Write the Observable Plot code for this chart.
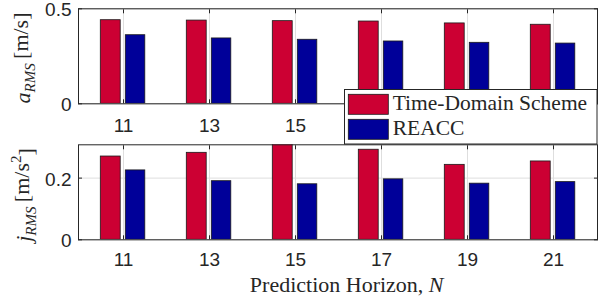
<!DOCTYPE html>
<html>
<head>
<meta charset="utf-8">
<script src="https://cdn.jsdelivr.net/npm/d3@7"></script>
<script src="https://cdn.jsdelivr.net/npm/@observablehq/plot@0.6"></script>
<style>
  body { margin: 0; background: #fff; }
  #wrap { position: relative; width: 603px; height: 299px; overflow: hidden; background: #fff; }
  #wrap > svg { display: block; }
  #legend { position: absolute; left: 344px; top: 89px; }
  text.serif, text.serif tspan { font-family: "Liberation Serif", "DejaVu Serif", "Noto Serif", serif !important; }
</style>
</head>
<body>
<div id="wrap"></div>
<script>
// ---- data ----
const horizons = [11, 13, 15, 17, 19, 21];
const seriesNames = ["Time-Domain Scheme", "REACC"];
const seriesColors = ["#CC0033", "#000099"];
const aTimeDomain = [0.440, 0.438, 0.435, 0.433, 0.423, 0.416];
const aReacc      = [0.361, 0.344, 0.337, 0.328, 0.321, 0.317];
const jTimeDomain = [0.270, 0.282, 0.320, 0.292, 0.243, 0.254];
const jReacc      = [0.225, 0.190, 0.180, 0.196, 0.182, 0.187];
const aTicks = [0, 0.5];
const jTicks = [0, 0.2];
const xLabelParts = ["Prediction Horizon, ", "N"];

const INK = "#262626";
const GRID = "#dedede";

function panel({tds, reacc, yDomain, yTicks, height, marginTop, marginBottom, xPad}) {
  const rows = horizons.map((n, i) => ({N: String(n), tds: tds[i], reacc: reacc[i]}));
  return Plot.plot({
    width: 603, height, marginTop, marginBottom, marginLeft: 78, marginRight: 6,
    style: {fontFamily: "'Liberation Sans', Arial, sans-serif", fontSize: "19px", color: INK, background: "#fff", overflow: "visible"},
    x: {type: "band", domain: horizons.map(String), padding: 0, label: null},
    y: {domain: yDomain, label: null},
    marks: [
      Plot.gridX({stroke: GRID, strokeOpacity: 1}),
      Plot.gridY(yTicks, {stroke: GRID, strokeOpacity: 1}),
      Plot.barY(rows, {x: "N", y: "tds", fill: seriesColors[0], stroke: "#1a1a1a", strokeWidth: 0.8, insetLeft: 20.3, insetRight: 45.8, clip: true}),
      Plot.barY(rows, {x: "N", y: "reacc", fill: seriesColors[1], stroke: "#1a1a1a", strokeWidth: 0.8, insetLeft: 45.3, insetRight: 21.2, clip: true}),
      Plot.axisX({anchor: "bottom", tickSize: 0, tickPadding: xPad, label: null}),
      Plot.axisX({anchor: "bottom", tickSize: -4, tickFormat: () => "", label: null, stroke: INK}),
      Plot.axisX({anchor: "top", tickSize: -4, tickFormat: () => "", label: null, stroke: INK}),
      Plot.axisY(yTicks, {anchor: "left", tickSize: 0, tickPadding: 7, dy: 1.5, tickFormat: d => String(d), label: null}),
      Plot.axisY(yTicks, {anchor: "left", tickSize: -4, tickFormat: () => "", label: null, stroke: INK}),
      Plot.axisY(yTicks, {anchor: "right", tickSize: -4, tickFormat: () => "", label: null, stroke: INK}),
      Plot.frame({stroke: INK, strokeWidth: 1})
    ]
  });
}

function yLabel(svg, cx, cy, letter, unitParts) {
  const t = d3.select(svg).append("text").attr("class", "serif")
    .attr("transform", `translate(${cx},${cy}) rotate(-90)`)
    .attr("text-anchor", "middle")
    .style("font-size", "22px").attr("fill", INK);
  t.append("tspan").style("font-style", "italic").text(letter);
  t.append("tspan").style("font-style", "italic").style("font-size", "15px").attr("dy", "0.3em").text("RMS");
  t.append("tspan").attr("dy", "-0.3em").text("\u2009[" + unitParts[0]);
  if (unitParts[1]) {
    t.append("tspan").style("font-size", "15px").attr("dy", "-0.55em").text(unitParts[1]);
    t.append("tspan").attr("dy", "0.55em").text("]");
  } else {
    t.append("tspan").text("]");
  }
}

const wrap = document.getElementById("wrap");
const topPanel = panel({tds: aTimeDomain, reacc: aReacc, yDomain: [0, 0.5], yTicks: aTicks, height: 140, marginTop: 8.3, marginBottom: 36.7, xPad: 15});
const bottomPanel = panel({tds: jTimeDomain, reacc: jReacc, yDomain: [0, 0.308], yTicks: jTicks, height: 159, marginTop: 4.3, marginBottom: 59.7, xPad: 12.5});
wrap.appendChild(topPanel);
wrap.appendChild(bottomPanel);

yLabel(topPanel, 30, 58, "a", ["m/s"]);
yLabel(bottomPanel, 31, 55, "j", ["m/s", "2"]);

const xl = d3.select(bottomPanel).append("text").attr("class", "serif")
  .attr("x", 346.7).attr("y", 152.3).attr("text-anchor", "middle")
  .style("font-size", "22px").attr("fill", INK);
xl.append("tspan").text(xLabelParts[0]);
xl.append("tspan").style("font-style", "italic").text(xLabelParts[1]);

// legend
const lg = d3.select(wrap).append("svg").attr("id", "legend")
  .attr("width", 254).attr("height", 56);
lg.append("rect").attr("x", 0.5).attr("y", 0.5).attr("width", 252.5).attr("height", 54.5)
  .attr("fill", "#fff").attr("stroke", INK).attr("stroke-width", 1);
seriesNames.forEach((name, i) => {
  const y0 = 5.3 + i * 25;
  lg.append("rect").attr("x", 4.3).attr("y", y0).attr("width", 40).attr("height", 20)
    .attr("fill", seriesColors[i]).attr("stroke", "#1a1a1a").attr("stroke-width", 0.8);
  lg.append("text").attr("class", "serif").attr("x", 48.7).attr("y", y0 + 15.7)
    .style("font-size", "21.5px").attr("fill", INK).text(name);
});
</script>
</body>
</html>
